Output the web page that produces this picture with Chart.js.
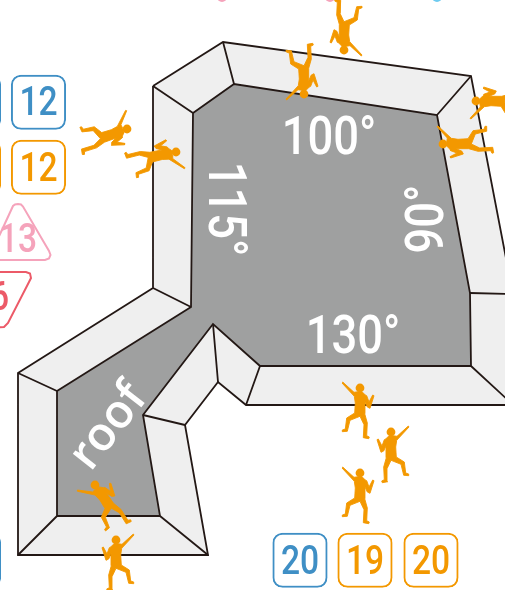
<!DOCTYPE html>
<html>
<head>
<meta charset="utf-8">
<title>roof</title>
<script src="https://cdn.jsdelivr.net/npm/chart.js@4"></script>
<style>
    html, body { margin: 0; padding: 0; background: #fff; overflow: hidden; }
    canvas { display: block; }
</style>
</head>
<body>
<canvas id="roofChart" width="505" height="590"></canvas>
<script>
// ========== roof outline ==========
const outerRoof = [[153,86],[223,42],[471,76],[510,279],[510,405],[246,405],[218,382],[185,425],[208,555],[18,555],[18,373],[153,288],[153,86]];
const innerRoof = [[193,113],[234,84],[437,115],[470,293],[471,366],[260,366],[213,324],[143,415],[160,516],[57,516],[57,391],[191,307],[193,113]];
const bevelFrom = [[153,86],[223,42],[471,76],[470,293],[471,366],[260,366],[213,324],[143,415],[160,516],[57,516],[57,391],[191,307]];
const bevelTo = [[193,113],[234,84],[437,115],[510,294],[510,402],[246,405],[218,382],[185,425],[208,555],[18,555],[18,373],[153,288]];

// ========== badges ==========
const badgeX = [-26.5, -26.5, -26.5, 38.5, 38.5, 300, 365, 431];
const badgeTop = [75, 140, 533, 75, 140, 533, 533, 533];
const badgeColors = ["#3f8fc5", "#f39800", "#3f8fc5", "#3f8fc5", "#f39800", "#3f8fc5", "#f39800", "#f39800"];
const pinkTriangle = [[-10,260],[45,260],[49,258.5],[50.5,255],[49,251],[23,206.5],[21,204.5],[18,204],[15,204.5],[13,206],[1,232],[-10,256]];
const redTriangle = [[-10,272],[26,272],[30,273.5],[31,278],[29,282],[8,323],[4,327],[-10,328]];
const topHeads = [[222,-3],[330,-3],[437,-3]];
const topHeadColors = ["#f5a3bb", "#f5a3bb", "#6ecbf0"];

// ========== little climbers, one outline placed many times ==========
const climberOutline = [[2,3.7],[5.3,7],[6.7,7.7],[9,14],[12.7,7],[14,7.7],[10,20.3],[7.3,19],[4.7,13.3],[4.7,25.7],[7.3,35],[6.7,47.7],[9.3,49],[8.7,50.7],[3.3,49.7],[4,36.7],[0,28.3],[-10,32.3],[-12.7,43.3],[-17.7,43.7],[-17.7,42],[-14.7,41],[-13.3,30],[-5.3,25],[-4.7,15],[-5.7,8.3],[-18,-5],[-17.3,-6],[-6,4.3],[-2,3.7]];
const climberHeads = [[360,388],[360,473],[391,432],[116,540],[95,485],[127,129],[176,152],[304,94],[344,50],[476,101],[443,144]];
const climberTurn = [0, 0, 0, 0, 35, -70, -79, 180, 180, 90, 90]; // degrees, counter clockwise
const climberMirror = [false, false, true, true, false, false, true, true, false, false, true];

// ========== labels ==========
const labelTexts = ["100°", "130°", "115°", "90°", "roof", "12", "12", "13", "16", "20", "19", "20"];
const labelX = [329, 353, 222, 429, 109, 38.5, 38.5, 18, -10, 300, 365, 431];
const labelY = [140, 339, 209, 219, 427, 105, 171, 242, 300, 564, 564, 564];
const labelTurn = [0, 0, 90, -90, -52, 0, 0, 0, 0, 0, 0, 0];
const labelColors = ["#fff", "#fff", "#fff", "#fff", "#fff", "#3f8fc5", "#f39800", "#f5a3bb", "#ec5a68", "#3f8fc5", "#f39800", "#f39800"];
const labelSizes = [54, 54, 54, 54, 47, 40, 40, 40, 40, 40, 40, 40];

const ORANGE = "#f39800";
const LINE = "#231815";

function toPoints(list) {
    return list.map(p => ({ x: p[0], y: p[1] }));
}

function polygon(list, fillColor, strokeColor, strokeWidth) {
    return {
        type: "scatter",
        data: toPoints(list),
        showLine: true,
        fill: "shape",
        backgroundColor: fillColor,
        borderColor: strokeColor,
        borderWidth: strokeWidth,
        pointRadius: 0,
        borderJoinStyle: "miter"
    };
}

function placeClimber(head, turn, mirror) {
    const rad = turn * Math.PI / 180;
    return climberOutline.map(p => {
        const px = mirror ? -p[0] : p[0];
        return [
            head[0] + px * Math.cos(rad) + p[1] * Math.sin(rad),
            head[1] - px * Math.sin(rad) + p[1] * Math.cos(rad)
        ];
    });
}

// bevel lines, broken with gaps between the pairs
const bevelLines = [];
bevelFrom.forEach((p, i) => {
    bevelLines.push({ x: p[0], y: p[1] }, { x: bevelTo[i][0], y: bevelTo[i][1] }, { x: NaN, y: NaN });
});

// listed in paint order, flipped at the end because chart.js paints the first one last
const datasets = [
    polygon(outerRoof, "#efefef", LINE, 1.8),
    polygon(innerRoof, "#9fa0a0", LINE, 1.8),
    {
        type: "scatter",
        data: bevelLines,
        showLine: true,
        spanGaps: false,
        borderColor: LINE,
        borderWidth: 1.8,
        pointRadius: 0
    },
    {
        type: "bar",
        data: badgeX.map((x, i) => ({ x: x, y: [badgeTop[i], badgeTop[i] + 54.5] })),
        backgroundColor: "#fff",
        borderColor: badgeColors,
        borderWidth: 2,
        borderRadius: 10,
        borderSkipped: false,
        barThickness: 54.5
    },
    polygon(pinkTriangle, "rgba(0,0,0,0)", "#f5a3bb", 2),
    polygon(redTriangle, "rgba(0,0,0,0)", "#ec5a68", 2),
    {
        type: "scatter",
        data: toPoints(topHeads),
        clip: false,
        backgroundColor: topHeadColors,
        borderWidth: 0,
        pointRadius: 5
    }
];

climberHeads.forEach((head, i) => {
    datasets.push(polygon(placeClimber(head, climberTurn[i], climberMirror[i]), ORANGE, ORANGE, 0.9));
});
datasets.push({
    type: "scatter",
    data: toPoints(climberHeads),
    backgroundColor: ORANGE,
    borderWidth: 0,
    pointRadius: 4.4
});

// texts go on top of everything
const labelPlugin = {
    id: "roofLabels",
    afterDatasetsDraw(chart) {
        const ctx = chart.ctx;
        const xScale = chart.scales.x;
        const yScale = chart.scales.y;
        labelTexts.forEach((text, i) => {
            const isRoof = text === "roof";
            ctx.save();
            ctx.translate(xScale.getPixelForValue(labelX[i]), yScale.getPixelForValue(labelY[i]));
            ctx.rotate(labelTurn[i] * Math.PI / 180);
            if (!isRoof) ctx.scale(0.84, 1);
            ctx.font = isRoof ? "600 " + labelSizes[i] + 'px "Open Sans"' : "500 " + labelSizes[i] + "px Roboto";
            ctx.fillStyle = labelColors[i];
            ctx.textAlign = "center";
            ctx.textBaseline = "middle";
            ctx.fillText(text, 0, 0);
            ctx.restore();
        });
    }
};

new Chart(document.getElementById("roofChart"), {
    data: { datasets: datasets.reverse() },
    options: {
        responsive: false,
        animation: false,
        layout: { padding: 0, autoPadding: false },
        plugins: { legend: { display: false }, tooltip: { enabled: false } },
        scales: {
            x: { type: "linear", min: 0, max: 505, offset: false, display: false },
            y: { type: "linear", min: 0, max: 590, reverse: true, display: false }
        }
    },
    plugins: [labelPlugin]
});
</script>
</body>
</html>
